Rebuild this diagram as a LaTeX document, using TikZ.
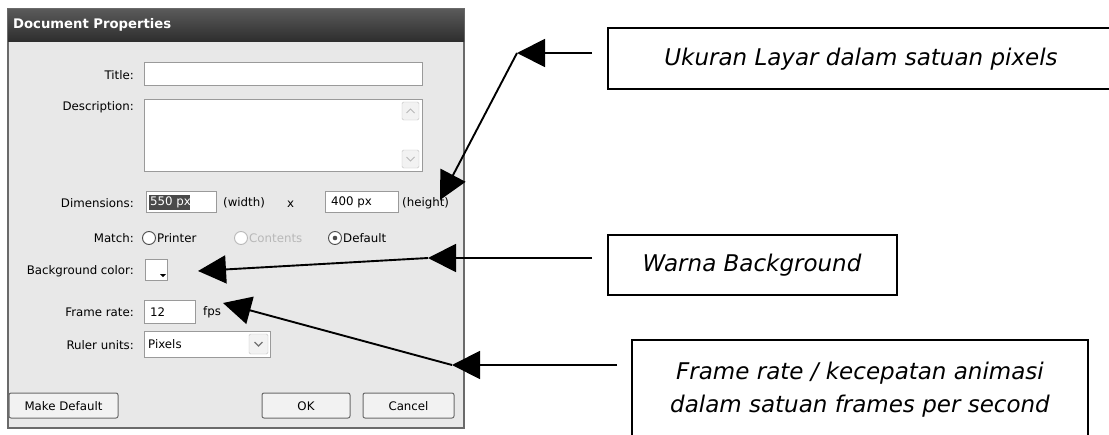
\documentclass[tikz,border=0pt]{standalone}
\usepackage{fontspec}
\setmainfont{DejaVu Sans}
\usetikzlibrary{arrows.meta}
\definecolor{dlgbg}{HTML}{E8E8E8}
\definecolor{dlgborder}{HTML}{6A6A6A}
\definecolor{fieldborder}{HTML}{9A9A9A}
\definecolor{titletop}{HTML}{5A5A5A}
\definecolor{titlebot}{HTML}{2E2E2E}
\definecolor{selbg}{HTML}{4A4A4A}
\definecolor{greytext}{HTML}{B8B8B8}
\definecolor{btnbg}{HTML}{F2F2F2}
\tikzset{
  x=1pt, y=-1pt,
  lbl/.style={anchor=east, inner sep=0pt, font=\fontsize{11.8}{14}\selectfont},
  txt/.style={anchor=west, inner sep=0pt, font=\fontsize{11.8}{14}\selectfont},
  field/.style={draw=fieldborder, fill=white, line width=0.9pt},
  btn/.style={draw=dlgborder, fill=btnbg, rounded corners=2pt, line width=1pt},
  callout/.style={draw=black, line width=2pt, fill=white},
  ctext/.style={inner sep=0pt, font=\fontsize{23}{33}\selectfont\itshape, align=center},
  pointer/.style={line width=1.9pt, -{Triangle[length=28pt,width=28pt]}},
}
\begin{document}
\begin{tikzpicture}
\useasboundingbox (0,0) rectangle (1109,434);
% dialog
\draw[fill=dlgbg, draw=dlgborder, line width=1.2pt] (8,9) rectangle (464,428);
\shade[top color=titletop, bottom color=titlebot] (8,9) rectangle (464,41);
\node[anchor=west, inner sep=0pt, text=white, font=\fontsize{13.2}{15}\selectfont\bfseries] (ttl) at (13,25) {Document Properties};

% labels
\node[lbl] (lTitle) at (134,75) {Title:};
\node[lbl] (lDesc) at (134,107) {Description:};
\node[lbl] (lDim) at (134,203) {Dimensions:};
\node[lbl] (lMatch) at (134,238) {Match:};
\node[lbl] (lBg) at (134,271) {Background color:};
\node[lbl] (lFr) at (134,312) {Frame rate:};
\node[lbl] (lRu) at (134,345) {Ruler units:};

% fields
\draw[field] (144,62) rectangle (422,85);
\draw[field] (144,99) rectangle (422,171);
\draw[fill=btnbg, draw=fieldborder!60, rounded corners=1.5pt] (402,102) rectangle (419,120);
\draw[greytext, line width=1pt] (406.5,113) -- (410.5,109) -- (414.5,113);
\draw[fill=btnbg, draw=fieldborder!60, rounded corners=1.5pt] (402,150) rectangle (419,168);
\draw[greytext, line width=1pt] (406.5,157) -- (410.5,161) -- (414.5,157);

% dimensions
\draw[field] (146,191) rectangle (216,212);
\fill[selbg] (149,194.5) rectangle (190,209.5);
\node[txt, text=white] (w) at (150,202) {550 px};
\node[txt] (wl) at (223,203) {(width)};
\node[txt] (xx) at (287,204) {x};
\draw[field] (325,191) rectangle (398,212);
\node[txt] (h) at (331,202) {400 px};
\node[txt] (hl) at (402,203) {(height)};

% match radios
\draw[fill=white, draw=black!70, line width=0.9pt] (149,238) circle (6.5);
\node[txt] (rp) at (157,238) {Printer};
\draw[fill=white, draw=greytext, line width=0.9pt] (241,238) circle (6.5);
\node[txt, text=greytext] (rc) at (249,238) {Contents};
\draw[fill=white, draw=black!70, line width=0.9pt] (335,238) circle (6.5);
\fill[black!70] (335,238) circle (2.3);
\node[txt] (rd) at (343,238) {Default};

% background colour swatch
\draw[fill=white, draw=fieldborder, line width=0.9pt] (145,259) rectangle (167,280);
\fill[black] (160,274) -- (166,274) -- (163,277) -- cycle;

% frame rate
\draw[field] (144,300) rectangle (195,323);
\node[txt] (fr) at (150,312) {12};
\node[txt] (fps) at (203,312) {fps};

% ruler units
\draw[field] (144,331) rectangle (270,357);
\node[txt] (px) at (148,344) {Pixels};
\draw[fill=btnbg, draw=fieldborder!60, rounded corners=1.5pt] (249,334) rectangle (268,354);
\draw[black!55, line width=1.3pt] (254.5,342) -- (258.5,346) -- (262.5,342);

% buttons
\draw[btn] (9,393) rectangle (118,418);
\node[font=\fontsize{11.8}{14}\selectfont, inner sep=0pt] (bmd) at (63.5,406) {Make Default};
\draw[btn] (262,393) rectangle (350,418);
\node[font=\fontsize{11.8}{14}\selectfont, inner sep=0pt] (bok) at (306,406) {OK};
\draw[btn] (363,393) rectangle (454,418);
\node[font=\fontsize{11.8}{14}\selectfont, inner sep=0pt] (bc) at (408.5,406) {Cancel};

% callouts
\draw[callout] (608,28) rectangle (1115,89);
\node[ctext] (c1) at (861,59) {Ukuran Layar dalam satuan pixels};
\draw[callout] (608,235) rectangle (897,295);
\node[ctext] (c2) at (752,265) {Warna Background};
\draw[callout] (632,340) rectangle (1088,440);
\node[ctext] (c3) at (860,390) {Frame rate / kecepatan animasi\\dalam satuan frames per second};

% pointers
\coordinate (s1) at (592,53);
\coordinate (p1) at (517,53);
\coordinate (t1) at (440,200);
\coordinate (s2) at (592,258);
\coordinate (p2) at (428,258);
\coordinate (t2) at (198,271);
\coordinate (s3) at (617,365);
\coordinate (p3) at (452,365);
\coordinate (t3) at (223,303);
\draw[pointer] (s1) -- (p1);
\draw[pointer] (p1) -- (t1);
\draw[pointer] (s2) -- (p2);
\draw[pointer] (p2) -- (t2);
\draw[pointer] (s3) -- (p3);
\draw[pointer] (p3) -- (t3);
\end{tikzpicture}
\end{document}
